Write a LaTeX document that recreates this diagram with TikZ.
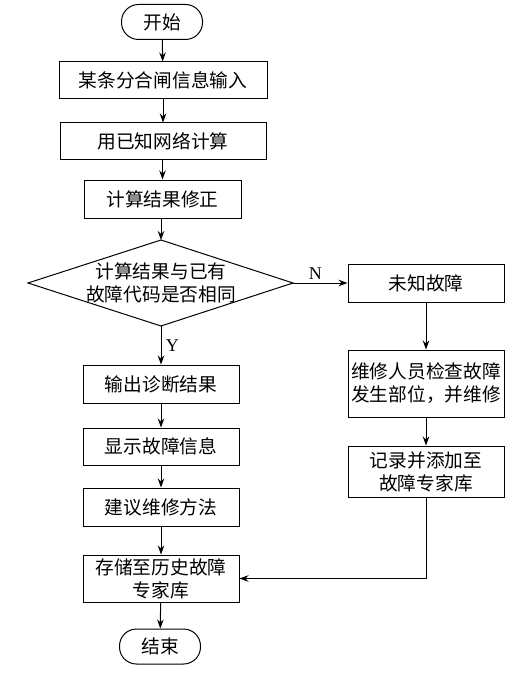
\documentclass[tikz,border=0pt]{standalone}
\usepackage{fontspec}
\setmainfont{Liberation Serif}
\newfontfamily\cjk{Noto Sans CJK SC}
\usetikzlibrary{arrows.meta}
\tikzset{
  every node/.style={font=\cjk\fontsize{18.7}{23}\selectfont},
  box/.style={draw, line width=1pt, inner sep=0pt, align=center, minimum width=156pt, minimum height=38pt},
  term/.style={draw, line width=1pt, rounded corners=17pt, inner sep=0pt, minimum width=81pt, minimum height=35pt},
  arr/.style={line width=1pt, -{Stealth[length=9pt,width=6.5pt]}},
  lbl/.style={font=\fontsize{18}{20}\selectfont}
}
\begin{document}
\begin{tikzpicture}[x=1pt,y=-1pt]
\useasboundingbox (0,0) rectangle (528,674);
\node[term] (start) at (162,22) {开始};
\node[box, minimum width=208pt, minimum height=37pt] (b1) at (163,80.5) {某条分合闸信息输入};
\node[box, minimum width=206pt, minimum height=36pt] (b2) at (163,141) {用已知网络计算};
\node[box, minimum width=157pt] (b3) at (162.5,199) {计算结果修正};
% diamond
\coordinate (dt) at (161,240);
\coordinate (dr) at (293,283);
\coordinate (db) at (161,326);
\coordinate (dl) at (28,283);
\draw[line width=1pt] (dt) -- (dr) -- (db) -- (dl) -- cycle;
\node[align=center, inner sep=0pt] (dec) at (161,283) {计算结果与已有\\故障代码是否相同};
\node[box] (u1) at (426,283) {未知故障};
\node[box, minimum height=67pt] (u2) at (426,383.5) {维修人员检查故障\\发生部位，并维修};
\node[box, minimum height=51pt] (u3) at (426,471.5) {记录并添加至\\故障专家库};
\node[box] (y1) at (161,384) {输出诊断结果};
\node[box, minimum height=37pt] (y2) at (161,446.5) {显示故障信息};
\node[box] (y3) at (161,507) {建议维修方法};
\node[box, minimum height=47pt] (y4) at (161,578.5) {存储至历史故障\\专家库};
\node[term] (stop) at (160,646.5) {结束};
\coordinate (corner) at (u3.south |- y4.east);
\draw[arr] (start) -- (b1);
\draw[arr] (b1) -- (b2);
\draw[arr] (b2.south -| b3.north) -- (b3);
\draw[arr] (b3.south -| dt) -- (dt);
\draw[arr] (dr) -- (u1.west) node[lbl, pos=0.5, above, xshift=-5pt] (nl) {N};
\draw[arr] (db) -- (y1.north) node[lbl, pos=0.5, right, xshift=1pt] (yl) {Y};
\draw[arr] (u1) -- (u2);
\draw[arr] (u2) -- (u3);
\draw[arr] (y1) -- (y2);
\draw[arr] (y2) -- (y3);
\draw[arr] (y3) -- (y4);
\draw[arr] (y4) -- (stop);
\draw[arr] (u3.south) -- (corner) -- (y4.east);
\end{tikzpicture}
\end{document}
